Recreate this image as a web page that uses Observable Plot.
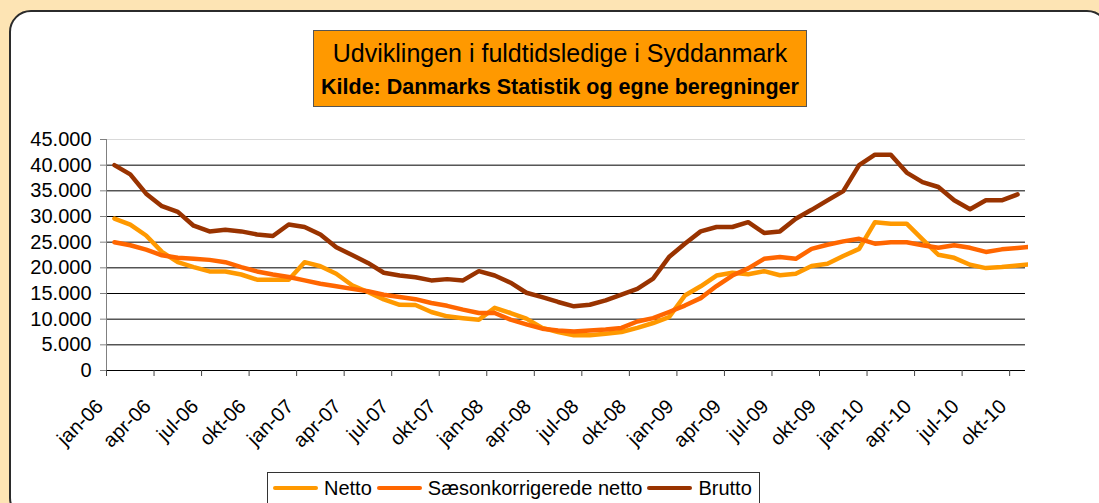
<!DOCTYPE html>
<html>
<head>
<meta charset="utf-8">
<script src="https://cdn.jsdelivr.net/npm/d3@7"></script>
<script src="https://cdn.jsdelivr.net/npm/@observablehq/plot@0.6"></script>
<style>
  html, body { margin: 0; padding: 0; width: 1099px; height: 503px; overflow: hidden; background: #FDE4B4;
    font-family: "Liberation Sans", Arial, sans-serif; }
  #panel { position: absolute; left: 9px; top: 10px; width: 1100px; height: 510px; box-sizing: border-box;
    border: 2px solid #2b2b2b; border-radius: 22px; background: #fff; }
  #chart { position: absolute; left: 0; top: 0; }
  #title { position: absolute; left: 313px; top: 30px; width: 494px; height: 77px; box-sizing: border-box;
    background: #FF9900; border: 1px solid #555; }
  .t { position: absolute; left: 0; right: 0; text-align: center; white-space: nowrap; color: #000; }
  #t1 { font-size: 25px; line-height: 25px; top: 9.8px; }
  #t2 { font-size: 21.5px; line-height: 21.5px; top: 45.8px; font-weight: bold; }
  #legend { position: absolute; left: 267px; top: 472px; height: 32px; box-sizing: border-box;
    border: 1px solid #333; background: #fff; display: flex; align-items: center;
    padding: 0 7px 0 5px; font-size: 20px; line-height: 20px; color: #000; white-space: nowrap; }
  .sw { display: inline-block; width: 45px; height: 4.5px; border-radius: 2px; margin-right: 6px; }
  .lt { margin-right: 5px; }
  .lt:last-child { margin-right: 0; }
</style>
</head>
<body>
<div id="panel"></div>
<div id="chart"></div>
<div id="title">
  <div class="t" id="t1">Udviklingen i fuldtidsledige i Syddanmark</div>
  <div class="t" id="t2">Kilde: Danmarks Statistik og egne beregninger</div>
</div>
<div id="legend"></div>
<script>
// x tick labels (every third month, jan-06 .. okt-10)
const xTickLabels = ["jan-06","apr-06","jul-06","okt-06","jan-07","apr-07","jul-07","okt-07",
  "jan-08","apr-08","jul-08","okt-08","jan-09","apr-09","jul-09","okt-09",
  "jan-10","apr-10","jul-10","okt-10"];
// y ticks
const yTicks = [0,5000,10000,15000,20000,25000,30000,35000,40000,45000];
const gridValues = [5000,10000,15000,20000,25000,30000,35000,40000];

// series values, monthly from jan-06
const netto = [29600,28400,26300,23100,21100,20150,19300,19300,18700,17700,17700,17700,
  21100,20300,18850,16600,15300,13850,12800,12750,11400,10550,10200,9900,
  12200,11200,10100,8300,7500,6850,6850,7150,7500,8300,9250,10400,
  14600,16400,18500,19050,18750,19350,18550,18850,20350,20800,22300,23700,
  28900,28600,28600,25550,22550,21950,20600,19950,20150,20450,20750];
const saeson = [25000,24400,23550,22450,21950,21750,21550,21100,20150,19300,18700,18200,
  17550,16900,16400,15900,15450,14750,14300,13900,13150,12600,11850,11200,
  11200,9900,9000,8150,7800,7600,7800,8000,8300,9550,10200,11400,
  12650,14100,16450,18500,19900,21750,22100,21750,23700,24500,25150,25650,
  24700,25000,25000,24400,23900,24400,23900,23100,23600,23850,24150];
const brutto = [40000,38200,34450,32000,30900,28200,27100,27400,27100,26500,26200,28450,
  27950,26500,24000,22500,20950,19050,18500,18150,17550,17800,17550,19350,
  18500,17100,15150,14300,13350,12500,12800,13650,14800,15900,17900,22100,
  24700,27100,27950,27950,28900,26800,27100,29550,31300,33150,34950,40000,
  42050,42050,38550,36700,35750,33150,31400,33150,33150,34300];

const seriesNames = ["Netto", "Sæsonkorrigerede netto", "Brutto"];
const seriesColors = ["#FF9900", "#FF6600", "#993300"];
const seriesValues = [netto, saeson, brutto];

const nCat = 58;
const boundaries = d3.range(0, nCat, 3);

const fmt = d3.formatLocale({decimal: ",", thousands: ".", grouping: [3], currency: ["", ""]}).format(",d");

const chart = Plot.plot({
  width: 1099,
  height: 503,
  marginLeft: 106,
  marginRight: 71,
  marginTop: 139,
  marginBottom: 133,
  x: {type: "linear", domain: [0, 58.19], axis: null},
  y: {domain: [0, 45000], axis: null},
  style: {background: "transparent", fontFamily: "'Liberation Sans', Arial, sans-serif", overflow: "visible"},
  marks: [
    Plot.ruleY(gridValues, {x1: 0, x2: nCat, stroke: "#000", strokeWidth: 1}),
    Plot.ruleY([45000], {x1: 0, x2: nCat, stroke: "#d9d9d9"}),
    Plot.ruleX([0], {y1: 0, y2: 45000, stroke: "#808080"}),
    Plot.axisY(yTicks, {tickSize: 6, tickPadding: 9, tickFormat: fmt, fontSize: 20,
      stroke: "#808080", fill: "#000", label: null}),
    Plot.ruleY([0], {x1: 0, x2: nCat, stroke: "#000"}),
    Plot.axisX(boundaries, {tickSize: 6, tickFormat: () => "", stroke: "#444", label: null}),
    Plot.text(xTickLabels, {
      x: (d, k) => k * 3 + 0.5, y: () => 0, text: d => d,
      rotate: -45, textAnchor: "end", lineAnchor: "top", dx: -20, dy: 27,
      fontSize: 20, fill: "#000"
    }),
    ...seriesValues.map((vals, s) => Plot.line(vals, {
      x: (d, i) => i + 0.5, y: d => d, stroke: seriesColors[s], strokeWidth: 4.5,
      strokeLinejoin: "round", strokeLinecap: "round", clip: true
    }))
  ]
});
document.getElementById("chart").appendChild(chart);

const legend = document.getElementById("legend");
seriesNames.forEach((name, s) => {
  const sw = document.createElement("span");
  sw.className = "sw";
  sw.style.background = seriesColors[s];
  legend.appendChild(sw);
  const lt = document.createElement("span");
  lt.className = "lt";
  lt.textContent = name;
  legend.appendChild(lt);
});
</script>
</body>
</html>
